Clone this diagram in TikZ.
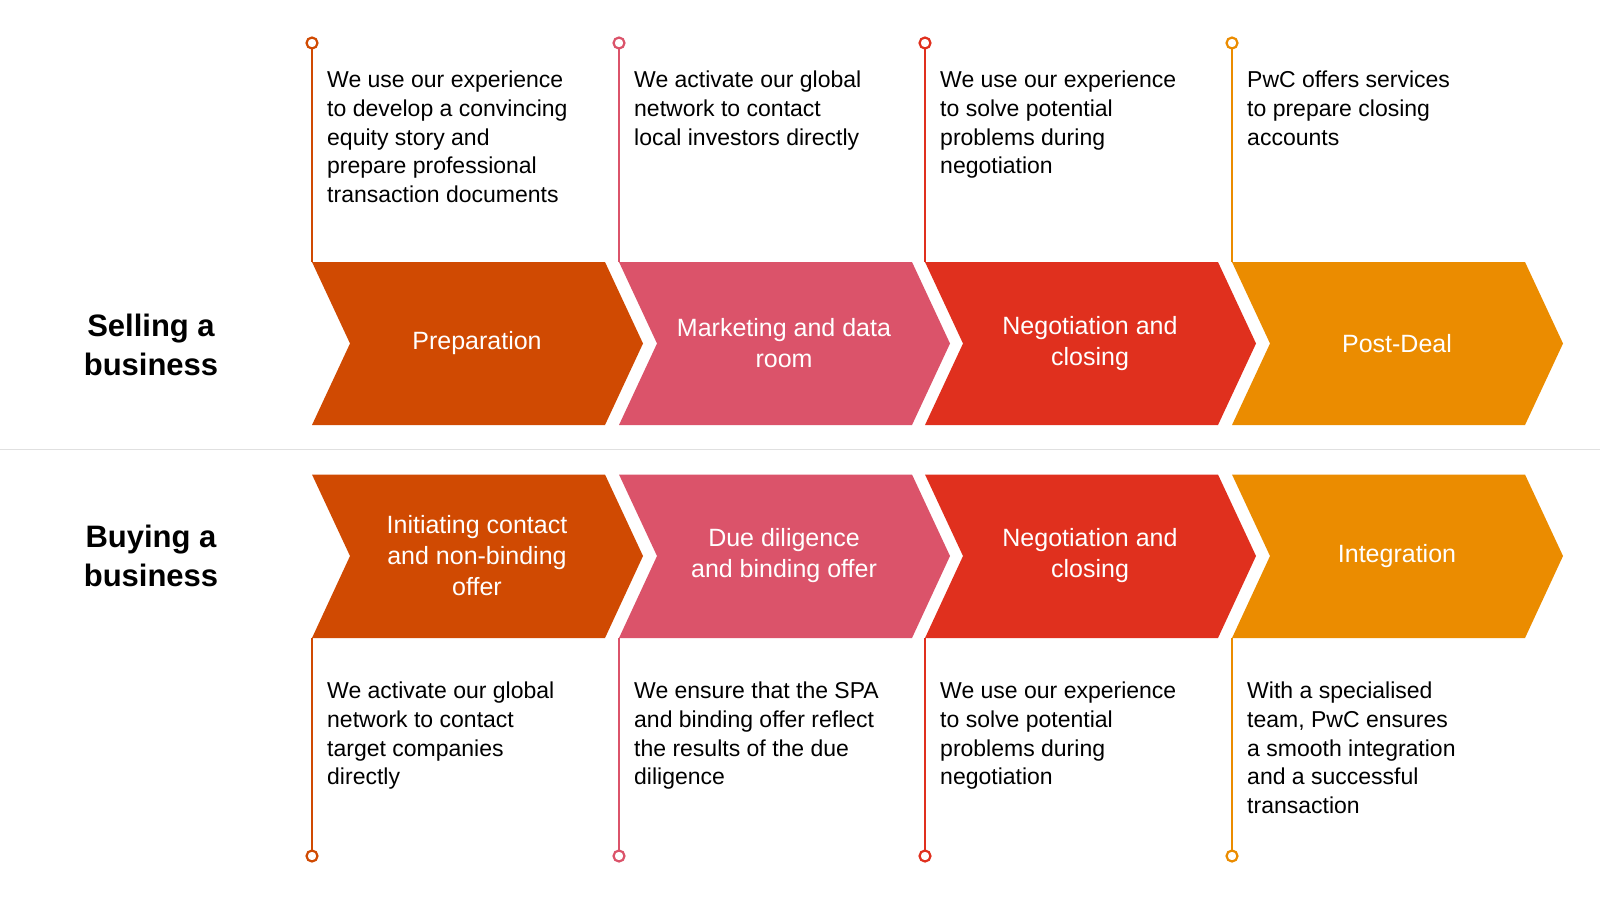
\documentclass[tikz,border=0pt]{standalone}
\usepackage{fontspec}
\setmainfont{Liberation Sans}
\definecolor{cA}{HTML}{D04A02}
\definecolor{cB}{HTML}{DB536A}
\definecolor{cC}{HTML}{E0301E}
\definecolor{cD}{HTML}{EB8C00}
\begin{document}
\begin{tikzpicture}[x=1pt,y=-1pt,
  desc/.style={anchor=north west,inner sep=0pt,align=left,font=\fontsize{23}{28.6}\selectfont,text=black},
  lab/.style={align=center,text=white,font=\fontsize{25}{31}\selectfont},
  side/.style={align=center,font=\fontsize{31}{39}\selectfont\bfseries},
  pin/.style={draw=#1,line width=2.2pt,fill=white}]
\useasboundingbox (0,0) rectangle (1600,900);
\draw[black!12,line width=1pt] (0,449) -- (1600,449);
\node[side] (s1) at (151,345) {Selling a\\business};
\node[side] (s2) at (151,556) {Buying a\\business};
% chevrons
\foreach \x/\c/\n in {312/cA/1,619/cB/2,925/cC/3,1232/cD/4}{
  \fill[\c] (\x,262) -- (\x+293,262) -- (\x+331,343.5) -- (\x+293,425) -- (\x,425) -- (\x+38,343.5) -- cycle;
  \fill[\c] (\x,474.5) -- (\x+293,474.5) -- (\x+331,556) -- (\x+293,638) -- (\x,638) -- (\x+38,556) -- cycle;
  \coordinate (t\n) at (\x,262);
  \coordinate (b\n) at (\x,638);
  \draw[\c,line width=2.2pt] (t\n) -- (\x,49);
  \draw[pin=\c] (\x,43) circle (5.5);
  \draw[\c,line width=2.2pt] (b\n) -- (\x,850);
  \draw[pin=\c] (\x,856) circle (5.5);
}
\node[lab] (p1) at (477,343.5) {Preparation};
\node[lab] (p2) at (784,343.5) {Marketing and data\\room};
\node[lab] (p3) at (1090,343.5) {Negotiation and\\closing};
\node[lab] (p4) at (1397,343.5) {Post-Deal};
\node[lab] (q1) at (477,556) {Initiating contact\\and non-binding\\offer};
\node[lab] (q2) at (784,556) {Due diligence\\and binding offer};
\node[lab] (q3) at (1090,556) {Negotiation and\\closing};
\node[lab] (q4) at (1397,556) {Integration};
\node[desc] (d1) at (327,71) {We use our experience\\to develop a convincing\\equity story and\\prepare professional\\transaction documents};
\node[desc] (d2) at (634,71) {We activate our global\\network to contact\\local investors directly};
\node[desc] (d3) at (940,71) {We use our experience\\to solve potential\\problems during\\negotiation};
\node[desc] (d4) at (1247,71) {PwC offers services\\to prepare closing\\accounts};
\node[desc] (e1) at (327,682) {We activate our global\\network to contact\\target companies\\directly};
\node[desc] (e2) at (634,682) {We ensure that the SPA\\and binding offer reflect\\the results of the due\\diligence};
\node[desc] (e3) at (940,682) {We use our experience\\to solve potential\\problems during\\negotiation};
\node[desc] (e4) at (1247,682) {With a specialised\\team, PwC ensures\\a smooth integration\\and a successful\\transaction};
\end{tikzpicture}
\end{document}
